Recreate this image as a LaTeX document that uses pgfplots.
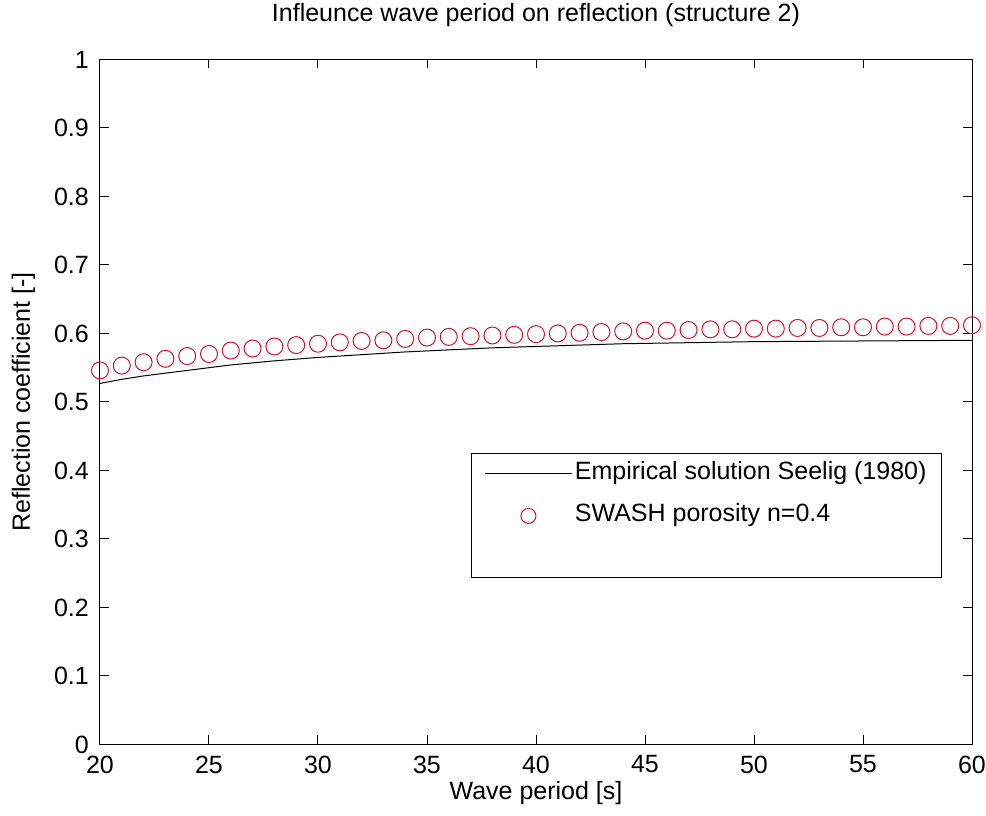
\documentclass[border=0pt]{standalone}
\usepackage{fontspec}
\setmainfont{Liberation Sans}
\usepackage{pgfplots}
\pgfplotsset{compat=1.18}

% Seelig (1980) empirical reflection coefficient
\pgfplotstableread{
T    Kr
20   0.527
21   0.533
22   0.538
23   0.542
24   0.546
25   0.550
26   0.554
27   0.557
28   0.560
30   0.565
32   0.569
34   0.573
36   0.576
38   0.579
40   0.581
42   0.583
44   0.585
46   0.586
48   0.587
50   0.588
55   0.589
60   0.590
}\seelig

% SWASH runs, porosity n = 0.4
\pgfplotstableread{
T    Kr
20   0.546
21   0.553
22   0.558
23   0.563
24   0.567
25   0.570
26   0.575
27   0.578
28   0.581
29   0.583
30   0.585
31   0.587
32   0.589
33   0.590
34   0.592
35   0.594
36   0.595
37   0.596
38   0.597
39   0.598
40   0.599
41   0.600
42   0.601
43   0.602
44   0.603
45   0.604
46   0.604
47   0.605
48   0.606
49   0.606
50   0.607
51   0.607
52   0.608
53   0.608
54   0.609
55   0.609
56   0.610
57   0.610
58   0.611
59   0.611
60   0.612
}\swash

% third series, plotted in white
\pgfplotstableread{
T    Kr
20   0.624
30   0.648
40   0.668
50   0.683
60   0.695
}\hidden

\newcommand\figfont{\fontsize{25}{30}\selectfont}

\begin{document}
\begin{tikzpicture}[font=\figfont]
\path (-100pt,-71pt) rectangle (886pt,741pt);
\begin{axis}[
  scale only axis,
  width=872pt, height=685pt,
  xmin=20, xmax=60, ymin=0, ymax=1,
  xtick={20,25,...,60},
  ytick={0,0.1,...,1},
  yticklabels={0,0.1,0.2,0.3,0.4,0.5,0.6,0.7,0.8,0.9,1},
  /pgf/number format/assume math mode=true,
  tick align=inside,
  major tick length=9pt,
  axis line style={line width=1pt},
  every tick/.style={black, line width=1pt},
  tick label style={font=\figfont},
  xticklabel style={anchor=north, inner sep=0pt, yshift=-11pt},
  yticklabel style={anchor=east, inner sep=0pt, xshift=-11pt},
  title={Infleunce wave period on reflection (structure 2)},
  title style={at={(0.5,1)}, anchor=base, yshift=32pt, font=\figfont},
  xlabel={Wave period [s]},
  xlabel style={at={(0.5,0)}, anchor=base, yshift=-55pt, font=\figfont},
  ylabel={Reflection coefficient [-]},
  ylabel style={at={(0,0.5)}, anchor=base, yshift=70pt, font=\figfont},
  legend style={at={(0.9656,0.4248)}, anchor=north east, draw=black,
    line width=1pt, font=\figfont,
    inner xsep=13pt, inner ysep=6pt, row sep=14pt,
    nodes={inner sep=2pt, text height=18pt, text depth=6pt}},
  legend cell align=left,
]
\addplot[black, line width=1pt, no markers,
  legend image code/.code={\draw[black, line width=1pt] (0pt,0pt) -- (87pt,0pt);}]
  table[x=T, y=Kr] {\seelig};
\addlegendentry{Empirical solution Seelig (1980)}

\addplot[only marks, mark=o, mark size=8.5pt, color={rgb,255:red,205;green,20;blue,45}, line width=1pt,
  legend image code/.code={\draw[mark size=7.5pt, mark options={line width=1pt}] plot coordinates {(43pt,0pt)};}]
  table[x=T, y=Kr] {\swash};
\addlegendentry{SWASH porosity n=0.4}

\addplot[white, line width=1pt, no markers,
  legend image code/.code={\draw[white, line width=1pt] (0pt,0pt) -- (87pt,0pt);}]
  table[x=T, y=Kr] {\hidden};
\addlegendentry{\phantom{X}}
\end{axis}
\end{tikzpicture}
\end{document}
